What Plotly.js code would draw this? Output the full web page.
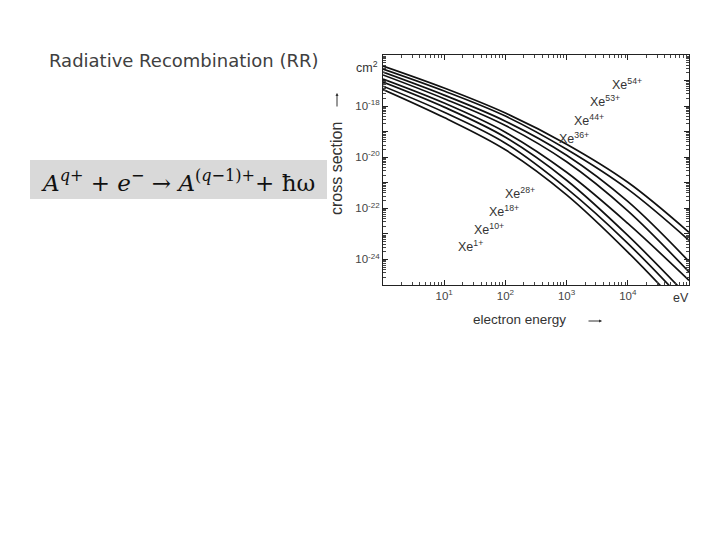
<!DOCTYPE html>
<html>
<head>
<meta charset="utf-8">
<script src="https://cdn.plot.ly/plotly-3.0.1.min.js"></script>
<style>html,body{margin:0;padding:0;background:#fff;}#chart{width:720px;height:540px;}</style>
</head>
<body>
<div id="chart"></div>
<script>
// electron energy (eV), one point per decade
const energy = [1, 10, 100, 1000, 10000, 100000];
// log10 of cross section (cm^2)
const ions = ['Xe<sup>54+</sup>','Xe<sup>53+</sup>','Xe<sup>44+</sup>','Xe<sup>36+</sup>','Xe<sup>28+</sup>','Xe<sup>18+</sup>','Xe<sup>10+</sup>','Xe<sup>1+</sup>'];
const xe54 = [-16.43, -17.29, -18.27, -19.49, -20.98, -22.94];
const xe53 = [-16.55, -17.41, -18.39, -19.69, -21.25, -23.25];
const xe44 = [-16.67, -17.57, -18.59, -19.92, -21.73, -24.08];
const xe36 = [-16.78, -17.71, -18.76, -20.18, -22.10, -24.49];
const xe28 = [-16.94, -17.88, -19.02, -20.59, -22.59, -24.82];
const xe18 = [-17.06, -18.04, -19.22, -20.90, -23.06, -25.49];
const xe10 = [-17.22, -18.24, -19.45, -21.22, -23.37, -25.84];
const xe1  = [-17.35, -18.45, -19.71, -21.47, -23.71, -26.22];
const seriesLog = [xe54, xe53, xe44, xe36, xe28, xe18, xe10, xe1];

const xTickVals = [10, 100, 1000, 10000, 100000];
const xTickText = ['10<sup>1</sup>', '10<sup>2</sup>', '10<sup>3</sup>', '10<sup>4</sup>', ' '];
const yTickVals = [1e-25, 1e-24, 1e-23, 1e-22, 1e-21, 1e-20, 1e-19, 1e-18, 1e-17, 1e-16];
const yTickText = [' ', '10<sup>-24</sup>', ' ', '10<sup>-22</sup>', ' ', '10<sup>-20</sup>', ' ', '10<sup>-18</sup>', ' ', ' '];

const traces = seriesLog.map((s, i) => ({
  x: energy,
  y: s.map(v => Math.pow(10, v)),
  type: 'scatter', mode: 'lines',
  line: {color: '#111', width: 1.7, shape: 'spline', smoothing: 1},
  name: ions[i], showlegend: false, hoverinfo: 'skip'
}));

const W = 720, H = 540;
const px = v => v / W, py = v => 1 - v / H;
const labelFont = {family: 'Liberation Sans, Arial, sans-serif', size: 12.5, color: '#333'};
const titleFont = {family: 'Liberation Sans, Arial, sans-serif', size: 13.5, color: '#333'};
const labelPos = [[610, 84], [588, 101], [572, 120], [557, 138], [503, 193], [487, 211], [472, 229], [456, 246]];

const annotations = ions.map((t, i) => ({
  xref: 'paper', yref: 'paper', x: px(labelPos[i][0]), y: py(labelPos[i][1]),
  xanchor: 'left', yanchor: 'middle', text: t, showarrow: false, font: labelFont
}));
annotations.push(
  {xref:'paper', yref:'paper', x: px(47), y: py(60), xanchor:'left', yanchor:'middle',
   text:'Radiative Recombination (RR)', showarrow:false,
   font:{family:'DejaVu Sans, sans-serif', size:18, color:'#404040'}},
  {xref:'paper', yref:'paper', x: px(178), y: py(181), xanchor:'center', yanchor:'middle',
   text:'<i>A</i><sup><i>q</i>+</sup> + <i>e</i><sup>−</sup> → <i>A</i><sup>(<i>q</i>−1)+</sup>+ ħω',
   showarrow:false, font:{family:'DejaVu Serif, Liberation Serif, serif', size:23, color:'#111'}},
  {xref:'paper', yref:'paper', x: px(367), y: py(67), xanchor:'center', yanchor:'middle',
   text:'cm<sup>2</sup>', showarrow:false, font:labelFont},
  {xref:'paper', yref:'paper', x: px(681), y: py(298), xanchor:'center', yanchor:'middle',
   text:'eV', showarrow:false, font:labelFont},
  {xref:'paper', yref:'paper', x: px(519), y: py(319), xanchor:'center', yanchor:'middle',
   text:'electron energy', showarrow:false, font:titleFont},
  {xref:'paper', yref:'paper', x: px(337), y: py(169), xanchor:'center', yanchor:'middle',
   text:'cross section', textangle:-90, showarrow:false, font:Object.assign({}, titleFont, {size:16})},
  {xref:'paper', yref:'paper', x: px(602), y: py(321), text:'', showarrow:true,
   ax:-15, ay:0, arrowhead:2, arrowsize:0.6, arrowwidth:1, arrowcolor:'#333'},
  {xref:'paper', yref:'paper', x: px(337), y: py(93), text:'', showarrow:true,
   ax:0, ay:15, arrowhead:2, arrowsize:0.6, arrowwidth:1, arrowcolor:'#333'}
);

const axisCommon = {
  type: 'log', showgrid: false, zeroline: false, showline: true, linecolor: '#222', linewidth: 1,
  mirror: 'allticks', ticks: 'inside', ticklen: 5, tickcolor: '#222', tickwidth: 1,
  tickfont: {family: 'Liberation Sans, Arial, sans-serif', size: 11.5, color: '#444'},
  minor: {ticks: 'inside', ticklen: 3, tickcolor: '#444', dtick: 'D1'}
};

const layout = {
  width: W, height: H, margin: {l: 0, r: 0, t: 0, b: 0},
  paper_bgcolor: '#fff', plot_bgcolor: '#fff', showlegend: false,
  xaxis: Object.assign({}, axisCommon, {
    domain: [383 / W, 689 / W], range: [0, 5],
    tickmode: 'array', tickvals: xTickVals, ticktext: xTickText
  }),
  yaxis: Object.assign({}, axisCommon, {
    domain: [1 - 285 / H, 1 - 55 / H], range: [-25, -16],
    tickmode: 'array', tickvals: yTickVals, ticktext: yTickText
  }),
  shapes: [{type:'rect', xref:'paper', yref:'paper', x0: px(30), x1: px(327), y0: py(199), y1: py(160),
    fillcolor:'#d9d9d9', line:{width:0}, layer:'below'}],
  annotations: annotations
};

Plotly.newPlot('chart', traces, layout, {displayModeBar: false, staticPlot: true});
</script>
</body>
</html>
